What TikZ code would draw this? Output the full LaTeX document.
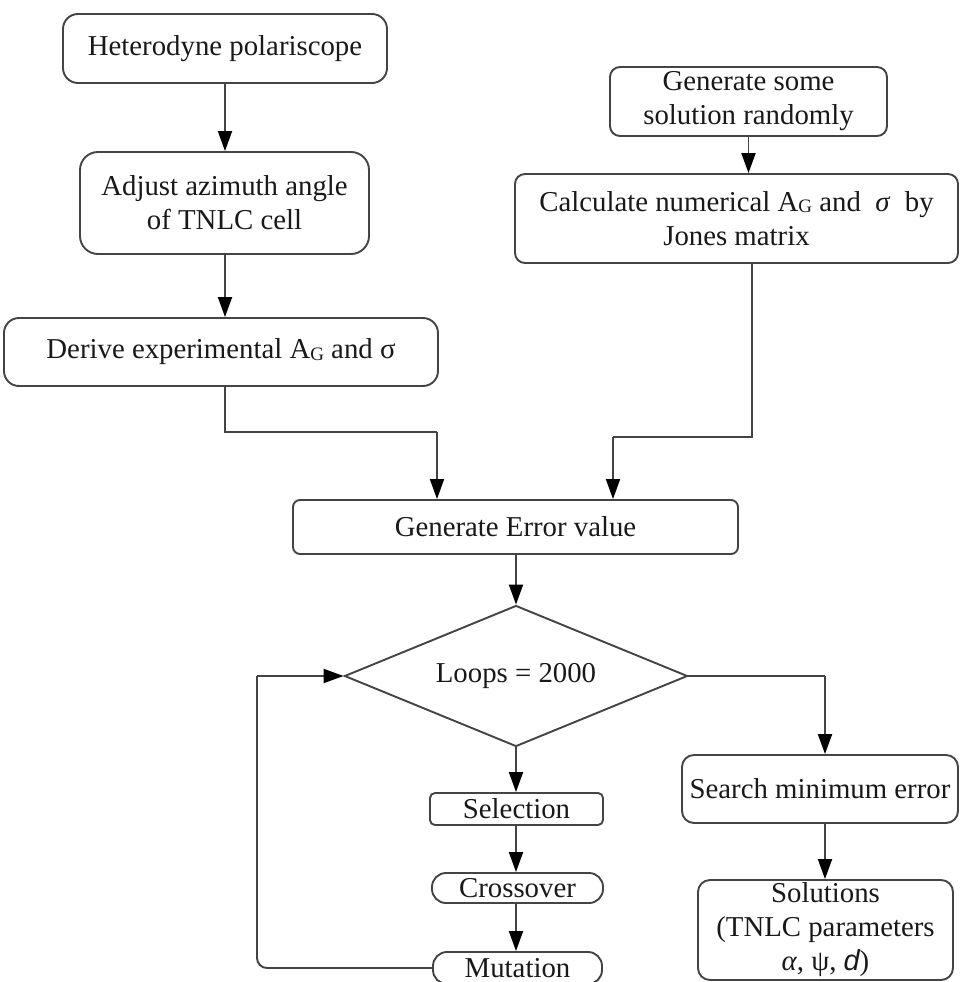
\documentclass[tikz,border=0pt]{standalone}
\usepackage{fontspec}
\setmainfont{Liberation Serif}
\setsansfont{Liberation Sans}
\usetikzlibrary{shapes.geometric,arrows.meta}
\definecolor{linec}{RGB}{68,68,68}
\definecolor{txtc}{RGB}{25,25,25}
\newcommand{\AG}{A\raisebox{-1.5pt}{\fontsize{19}{19}\selectfont G}}
\begin{document}
\begin{tikzpicture}[x=1pt,y=-1pt,
  box/.style={draw=linec, line width=1.9pt, rounded corners=#1, inner sep=0pt,
    align=center, font=\fontsize{28.8}{34}\selectfont, text=txtc},
  box/.default=12pt,
  arr/.style={draw=linec, line width=1.9pt, -{Triangle[length=20pt,width=14pt,color=black,fill=black]}},
  ln/.style={draw=linec, line width=1.9pt}]
\useasboundingbox (0,0) rectangle (960,982);
\clip (0,0) rectangle (960,982);
\fill[white] (0,0) rectangle (960,982);

% left column
\node[box=15pt, minimum width=324pt, minimum height=69pt] (hp) at (225,48.5) {Heterodyne polariscope};
\node[box=18pt, minimum width=289pt, minimum height=102pt] (adj) at (224.5,203) {Adjust azimuth angle\\of TNLC cell};
\node[box=15pt, minimum width=434pt, minimum height=68pt] (der) at (221,352) {Derive experimental \AG{} and σ};

% right column
\node[box=10pt, minimum width=277pt, minimum height=69pt] (gen) at (748.5,101.5) {Generate some\\solution randomly};
\node[box=10pt, minimum width=443pt, minimum height=89pt] (calc) at (736.5,218.5) {Calculate numerical \AG{} and \ \textit{σ}\ \ by\\Jones matrix};

% middle
\node[box=7pt, minimum width=445pt, minimum height=54pt] (err) at (515.5,527) {Generate Error value};
\node[draw=linec, line width=1.9pt, diamond, shape aspect=2.43, minimum width=343pt, minimum height=141pt,
  inner sep=0pt, font=\fontsize{28.8}{34}\selectfont, text=txtc] (dia) at (516,676) {Loops = 2000};

% loop column
\node[box=5pt, minimum width=173pt, minimum height=32pt] (sel) at (516.5,809) {Selection};
\node[box=14pt, minimum width=171pt, minimum height=30pt] (cro) at (517.5,888) {Crossover};
\node[box=14pt, minimum width=169pt, minimum height=32pt] (mut) at (517.5,968) {Mutation};

% result column
\node[box=12pt, minimum width=276pt, minimum height=68pt] (srch) at (820,789) {Search minimum error};
\node[box=12pt, minimum width=255pt, minimum height=100pt] (sol) at (825.5,930) {Solutions\\(TNLC parameters\\\textit{α}, ψ, {\sffamily\itshape d})};

% helper coordinates
\coordinate (jl) at (437,432);
\coordinate (jr) at (613,437);
\coordinate (cr) at (752,437);
\coordinate (rx) at (825,676);
\coordinate (lp) at (257,968);

% connectors
\draw[arr] (hp.south) -- (adj.north -| hp.south);
\draw[arr] (adj.south -| hp.south) -- (der.north -| hp.south);
\draw[ln] (der.south -| hp.south) |- (jl);
\draw[arr] (jl) -- (jl |- err.north);
\draw[arr] (gen.south) -- (gen.south |- calc.north);
\draw[ln] (cr |- calc.south) -- (cr) -- (jr);
\draw[arr] (jr) -- (jr |- err.north);
\draw[arr] (err.south -| dia.north) -- (dia.north);
\draw[ln] (dia.east) -- (rx);
\draw[arr] (rx) -- (rx |- srch.north);
\draw[arr] (rx |- srch.south) -- (rx |- sol.north);
\draw[arr] (dia.south) -- (dia.south |- sel.north);
\draw[arr] (dia.south |- sel.south) -- (dia.south |- cro.north);
\draw[arr] (dia.south |- cro.south) -- (dia.south |- mut.north);
\draw[ln, rounded corners=10pt] (mut.west) -- (lp) -- (lp |- dia.west);
\draw[arr] (lp |- dia.west) -- (dia.west);
\end{tikzpicture}
\end{document}
